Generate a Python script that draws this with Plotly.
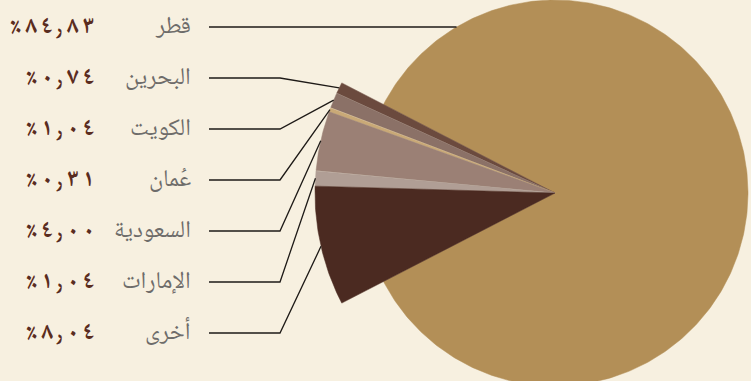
import numpy as np
import plotly.graph_objects as go

# ---- data ----
labels = ["قطر", "البحرين", "الكويت", "عُمان", "السعودية", "الإمارات", "أخرى"]
values = [84.83, 0.74, 1.04, 0.31, 4.00, 1.04, 8.04]
colors = ["#b38f57", "#6b4a3e", "#8b7167", "#c9a977", "#9b8075", "#b09e95", "#4b2a21"]

# ---- helpers ----
AR_DIGITS = str.maketrans("0123456789.", "٠١٢٣٤٥٦٧٨٩٫")
LRM = "\u200e"
GAP = LRM + "\u2006" + LRM


def ar_pct(v):
    chars = ["٪"] + list(f"{v:.2f}".translate(AR_DIGITS))
    return GAP.join(chars)


BG = "#f7f0e0"
NAME_FONT = "Noto Naskh Arabic, Noto Sans Arabic, DejaVu Sans, sans-serif"
VAL_FONT = "Noto Naskh Arabic, Noto Sans Arabic, DejaVu Sans, sans-serif"

cx, cy = 555, 193          # pie centre (pixel units on the axes)
r_main, r_small = 193, 240  # radius of the main slice / the other slices
row0, row_step = 27, 51     # label rows
x_line0, x_elbow = 209, 280
x_name, x_val = 193, 96

total = sum(values)
theta0 = -values[0] / total * 180.0
edges = theta0 + np.concatenate([[0.0], np.cumsum(values)]) / total * 360.0

fig = go.Figure()

# slices
for i, (lab, v) in enumerate(zip(labels, values)):
    r = r_main if i == 0 else r_small
    n = 400 if i == 0 else 40
    t = np.radians(np.linspace(edges[i], edges[i + 1], n))
    xs = np.concatenate([[cx], cx + r * np.cos(t), [cx]])
    ys = np.concatenate([[cy], cy - r * np.sin(t), [cy]])
    fig.add_trace(go.Scatter(
        x=xs, y=ys, mode="lines", fill="toself", fillcolor=colors[i],
        line=dict(color=colors[i], width=0.5), hoverinfo="skip", name=lab,
    ))

# leader lines and labels
annotations = []
for i, (lab, v) in enumerate(zip(labels, values)):
    y = row0 + i * row_step
    if i == 0:
        xe = cx - np.sqrt(r_main ** 2 - (cy - y) ** 2)
        lx, ly = [x_line0, xe], [y, y]
    else:
        mid = np.radians((edges[i] + edges[i + 1]) / 2)
        lx = [x_line0, x_elbow, cx + r_small * np.cos(mid)]
        ly = [y, y, cy - r_small * np.sin(mid)]
    fig.add_trace(go.Scatter(
        x=lx, y=ly, mode="lines", line=dict(color="#1e1a17", width=1.3),
        hoverinfo="skip",
    ))
    annotations.append(dict(
        x=x_name, y=y, xref="x", yref="y", text=lab, showarrow=False,
        xanchor="right", yanchor="middle",
        font=dict(family=NAME_FONT, size=24, color="#6e6c6a"),
    ))
    annotations.append(dict(
        x=x_val, y=y, xref="x", yref="y", text="<b>" + ar_pct(v) + "</b>",
        showarrow=False, xanchor="right", yanchor="middle",
        font=dict(family=VAL_FONT, size=24, color="#5a2c20"),
    ))

fig.update_layout(
    width=751, height=381,
    margin=dict(l=0, r=0, t=0, b=0),
    paper_bgcolor=BG, plot_bgcolor=BG,
    showlegend=False,
    hovermode=False,
    annotations=annotations,
    xaxis=dict(range=[0, 751], visible=False, fixedrange=True),
    yaxis=dict(range=[381, 0], visible=False, fixedrange=True),
)

fig.write_html(
    "out.html",
    config={"displayModeBar": False, "staticPlot": True},
    post_script="document.body.style.margin='0';document.body.style.background='%s';" % BG,
)
